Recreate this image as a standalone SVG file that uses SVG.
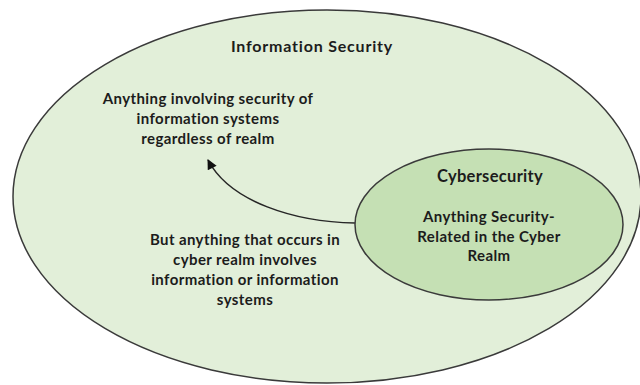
<svg xmlns="http://www.w3.org/2000/svg" width="640" height="385" viewBox="0 0 640 385">
  <defs>
    <style>
      .bg { fill: #ffffff; }
      .outer { fill: #e2efd9; stroke: #3a3a3a; stroke-width: 1.5; }
      .inner { fill: #c5e0b4; stroke: #3a3a3a; stroke-width: 1.5; }
      .lbl { font-family: Lato, "Liberation Sans", sans-serif; font-weight: bold; font-size: 15px; letter-spacing: 0.4px; fill: #1c1c1c; text-anchor: middle; }
      .title { font-size: 16px; letter-spacing: 0.8px; }
      .head { font-size: 16.5px; letter-spacing: 0.3px; }
      .conn { fill: none; stroke: #262626; stroke-width: 1.6; }
    </style>
    <marker id="arrow" viewBox="0 0 10 10" refX="9" refY="5" markerWidth="11" markerHeight="10" orient="auto" markerUnits="userSpaceOnUse">
      <path d="M0,0 L10,5 L0,10 z" fill="#111111"/>
    </marker>
  </defs>
  <rect class="bg" width="640" height="385"/>

  <g id="information-security">
    <ellipse class="outer" cx="327" cy="196.5" rx="314" ry="186.5"/>
    <text class="lbl title" x="312" y="52">Information Security</text>
    <text class="lbl" x="208" y="104">Anything involving security of</text>
    <text class="lbl" x="208" y="124">information systems</text>
    <text class="lbl" x="208" y="144">regardless of realm</text>
    <text class="lbl" x="245" y="245">But anything that occurs in</text>
    <text class="lbl" x="245" y="265">cyber realm involves</text>
    <text class="lbl" x="245" y="285">information or information</text>
    <text class="lbl" x="245" y="305">systems</text>
  </g>

  <g id="connectors">
    <path class="conn" d="M355,223 C295,222 230,202 208,160" marker-end="url(#arrow)"/>
  </g>

  <g id="cybersecurity">
    <ellipse class="inner" cx="489" cy="224.5" rx="134" ry="75.5"/>
    <text class="lbl head" x="490" y="182">Cybersecurity</text>
    <text class="lbl" x="489" y="222">Anything Security-</text>
    <text class="lbl" x="489" y="242">Related in the Cyber</text>
    <text class="lbl" x="489" y="261">Realm</text>
  </g>
</svg>
